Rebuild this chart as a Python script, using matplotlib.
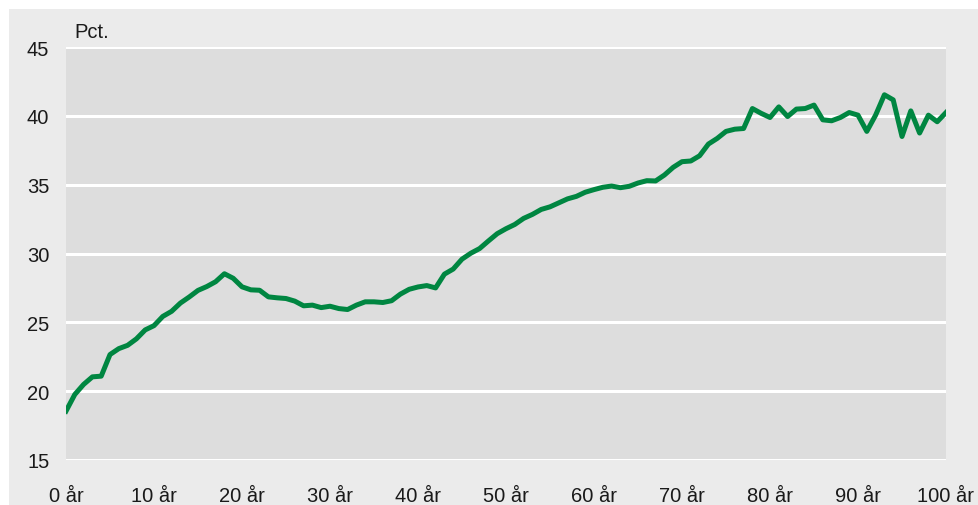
import matplotlib.pyplot as plt
from matplotlib.patches import Rectangle

# andel i pct. fordelt på alder (0-100 år)
ages = list(range(0, 101))
pct = [
    18.55, 19.76, 20.49, 21.04, 21.09, 22.66, 23.09, 23.33, 23.80, 24.45,
    24.76, 25.43, 25.80, 26.40, 26.84, 27.32, 27.60, 27.95, 28.53, 28.20,
    27.58, 27.36, 27.33, 26.85, 26.78, 26.73, 26.54, 26.20, 26.25, 26.07,
    26.17, 26.00, 25.93, 26.25, 26.49, 26.49, 26.44, 26.57, 27.05, 27.40,
    27.57, 27.67, 27.50, 28.50, 28.87, 29.59, 30.02, 30.36, 30.91, 31.44,
    31.80, 32.11, 32.55, 32.84, 33.20, 33.39, 33.68, 33.97, 34.15, 34.45,
    34.64, 34.81, 34.90, 34.78, 34.88, 35.12, 35.29, 35.27, 35.70, 36.26,
    36.67, 36.72, 37.10, 37.95, 38.36, 38.87, 39.03, 39.08, 40.53, 40.18,
    39.88, 40.65, 39.95, 40.49, 40.53, 40.78, 39.71, 39.64, 39.88, 40.24,
    40.05, 38.87, 40.05, 41.53, 41.16, 38.50, 40.36, 38.75, 40.05, 39.57,
    40.24,
]
xticks = list(range(0, 101, 10))
xlabels = [f"{v} år" for v in xticks]
yticks = [15, 20, 25, 30, 35, 40, 45]

plt.rcParams['font.family'] = ['Liberation Sans', 'DejaVu Sans']

W, H = 979, 506
fig = plt.figure(figsize=(W / 100, H / 100), dpi=100, facecolor='white')
fig.patches.append(Rectangle((9 / W, 0), 1, (H - 10) / H, transform=fig.transFigure,
                             facecolor='#ebebeb', edgecolor='none', zorder=-10))

ax = fig.add_axes([66 / W, (H - 461) / H, (946 - 66) / W, (461 - 48) / H], zorder=1)
ax.set_facecolor('#dddddd')
ax.plot(ages, pct, color='#008641', linewidth=3.6, zorder=3)

ax.set_xlim(0, 100)
ax.set_ylim(15, 45)
ax.set_xticks(xticks)
ax.set_xticklabels(xlabels)
ax.set_yticks(yticks)
ax.grid(axis='y', color='white', linewidth=2.2)
ax.set_axisbelow(True)
for s in ax.spines.values():
    s.set_visible(False)
ax.tick_params(length=0, labelsize=14.5, colors='#1a1a1a')
ax.tick_params(axis='x', pad=19)
ax.tick_params(axis='y', pad=12)

fig.text(74 / W, 1 - 32 / H, 'Pct.', fontsize=14.5, color='#1a1a1a', va='center', ha='left')

fig.savefig('out.png', dpi=100, facecolor='white')
